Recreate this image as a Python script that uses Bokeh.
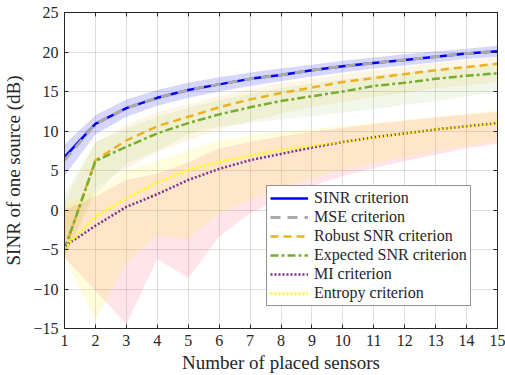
from bokeh.plotting import figure
from bokeh.models import Range1d, LinearAxis, Legend, LegendItem, FixedTicker
from bokeh.embed import file_html
from bokeh.resources import INLINE

n = list(range(1, 16))

sinr = [6.7, 10.9, 12.9, 14.2, 15.2, 15.9, 16.6, 17.1, 17.7, 18.2, 18.6, 19.0, 19.4, 19.8, 20.1]
sinr_lo = [4.3, 9.6, 11.8, 13.2, 14.2, 15.0, 15.7, 16.3, 16.9, 17.4, 17.9, 18.3, 18.7, 19.1, 19.4]
sinr_hi = [8.3, 12.0, 14.0, 15.2, 16.1, 16.8, 17.4, 17.9, 18.4, 18.9, 19.3, 19.7, 20.1, 20.4, 20.8]

mse = [6.3, 10.9, 12.9, 14.2, 15.2, 15.9, 16.6, 17.1, 17.7, 18.2, 18.6, 19.0, 19.4, 19.8, 20.1]

robust = [-5.0, 6.3, 8.8, 10.6, 11.8, 13.0, 14.0, 14.8, 15.5, 16.2, 16.7, 17.2, 17.7, 18.1, 18.5]
robust_lo = [-6.0, 2.8, 5.3, 7.3, 8.8, 10.2, 11.3, 12.2, 13.0, 13.7, 14.3, 14.8, 15.4, 15.8, 16.2]
robust_hi = [1.0, 8.5, 10.8, 12.4, 13.4, 14.4, 15.3, 16.0, 16.6, 17.2, 17.7, 18.1, 18.6, 19.0, 19.4]

expected = [-5.0, 6.2, 8.0, 9.7, 11.0, 12.1, 13.0, 13.8, 14.4, 15.0, 15.7, 16.1, 16.6, 17.0, 17.3]
expected_lo = [-6.0, 2.0, 5.9, 7.5, 9.6, 10.6, 11.0, 11.5, 11.9, 12.3, 12.8, 13.3, 13.8, 14.4, 15.0]
expected_hi = [2.0, 8.6, 10.3, 11.8, 12.9, 13.9, 14.7, 15.4, 16.0, 16.5, 17.0, 17.4, 17.8, 18.2, 18.5]

mi = [-4.6, -2.0, 0.4, 2.0, 3.8, 5.2, 6.3, 7.1, 7.9, 8.6, 9.2, 9.7, 10.2, 10.6, 11.0]
mi_lo = [-6.0, -10.2, -14.5, -6.2, -8.6, -3.4, -0.4, 1.5, 3.0, 4.3, 5.3, 6.2, 7.0, 7.8, 8.4]
mi_hi = [0.0, 1.7, 3.8, 4.6, 6.0, 7.8, 8.6, 9.3, 9.9, 10.4, 10.9, 11.3, 11.7, 12.1, 12.4]

entropy = [-4.8, -0.8, 1.5, 3.5, 5.1, 6.1, 6.9, 7.6, 8.1, 8.6, 9.2, 9.7, 10.2, 10.6, 11.0]
entropy_lo = [-6.0, -14.0, -6.7, -3.3, -3.7, -0.4, 1.3, 2.8, 4.0, 5.1, 5.9, 6.7, 7.4, 8.1, 8.6]
entropy_hi = [0.5, 2.5, 5.0, 6.2, 7.5, 8.8, 9.4, 9.9, 10.3, 10.6, 11.0, 11.4, 11.8, 12.2, 12.6]

x_ticks = list(range(1, 16))
y_ticks = [-15, -10, -5, 0, 5, 10, 15, 20, 25]

FONT = "Liberation Serif"

p = figure(width=505, height=375, output_backend="svg", toolbar_location=None,
           x_range=Range1d(1, 15), y_range=Range1d(-15, 25))
p.min_border_left = 61
p.min_border_right = 8
p.min_border_top = 12
p.min_border_bottom = 46
p.outline_line_color = "#262626"
p.outline_line_width = 1
p.background_fill_color = "white"
p.border_fill_color = "white"

for ax in (p.xaxis[0], p.yaxis[0]):
    ax.major_tick_in = 4
    ax.major_tick_out = 0
    ax.minor_tick_line_color = None
    ax.axis_line_color = "#262626"
    ax.major_tick_line_color = "#262626"
    ax.major_label_text_font = FONT
    ax.major_label_text_font_size = "16px"
    ax.major_label_text_color = "#262626"
    ax.axis_label_text_font = FONT
    ax.axis_label_text_font_size = "19px"
    ax.axis_label_text_font_style = "normal"
    ax.axis_label_text_color = "#262626"

p.xaxis[0].ticker = FixedTicker(ticks=x_ticks)
p.yaxis[0].ticker = FixedTicker(ticks=y_ticks)
p.xaxis[0].axis_label = "Number of placed sensors"
p.yaxis[0].axis_label = "SINR of one source (dB)"
p.xaxis[0].major_label_standoff = 6
p.yaxis[0].major_label_standoff = 6
p.xaxis[0].axis_label_standoff = 3
p.yaxis[0].axis_label_standoff = 6

for loc, tk in (("above", x_ticks), ("right", y_ticks)):
    ax = LinearAxis(ticker=FixedTicker(ticks=tk), major_tick_in=4, major_tick_out=0,
                    minor_tick_line_color=None, major_label_text_font_size="1px",
                    major_label_text_color=None,
                    major_label_standoff=0, axis_line_color="#262626",
                    major_tick_line_color="#262626")
    p.add_layout(ax, loc)

p.xgrid.ticker = FixedTicker(ticks=x_ticks)
p.ygrid.ticker = FixedTicker(ticks=y_ticks)
p.grid.grid_line_color = "#262626"
p.grid.grid_line_alpha = 0.15

# bands
p.varea(x=n, y1=sinr_lo, y2=sinr_hi, fill_color="#0000FF", fill_alpha=0.16)
p.varea(x=n, y1=robust_lo, y2=robust_hi, fill_color="#EDB120", fill_alpha=0.12)
p.varea(x=n, y1=expected_lo, y2=expected_hi, fill_color="#77AC30", fill_alpha=0.1)
p.varea(x=n, y1=mi_lo, y2=mi_hi, fill_color="#FF3355", fill_alpha=0.13)
p.varea(x=n, y1=entropy_lo, y2=entropy_hi, fill_color="#FFEE00", fill_alpha=0.13)

r_sinr = p.line(n, sinr, line_color="#0000FF", line_width=2.5)
r_mse = p.line(n, mse, line_color="#AAAAAA", line_width=3, line_dash="10 7")
r_rob = p.line(n, robust, line_color="#EDB120", line_width=2.5, line_dash="8 5")
r_exp = p.line(n, expected, line_color="#77AC30", line_width=2.5, line_dash="8 3 3 3")
r_mi = p.line(n, mi, line_color="#7E2F8E", line_width=2.5, line_dash="2 2")
r_ent = p.line(n, entropy, line_color="#FFFF00", line_width=2.5, line_dash="2 2")

legend = Legend(items=[
    LegendItem(label="SINR criterion", renderers=[r_sinr]),
    LegendItem(label="MSE criterion", renderers=[r_mse]),
    LegendItem(label="Robust SNR criterion", renderers=[r_rob]),
    LegendItem(label="Expected SNR criterion", renderers=[r_exp]),
    LegendItem(label="MI criterion", renderers=[r_mi]),
    LegendItem(label="Entropy criterion", renderers=[r_ent]),
], location=(202, 22))
legend.label_text_font = FONT
legend.label_text_font_size = "16px"
legend.label_text_color = "#262626"
legend.glyph_width = 38
legend.glyph_height = 16
legend.label_height = 16
legend.label_standoff = 6
legend.spacing = 1
legend.padding = 3
legend.margin = 0
legend.border_line_color = "#262626"
legend.border_line_width = 1
legend.background_fill_color = "white"
legend.background_fill_alpha = 1
p.add_layout(legend, "center")

open("out.html", "w").write(file_html(p, INLINE))
